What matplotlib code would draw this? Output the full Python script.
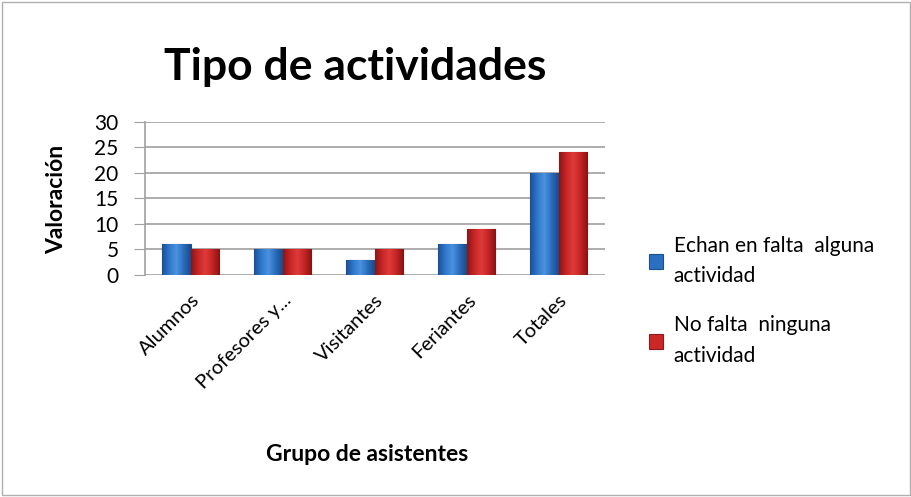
import numpy as np
import matplotlib.pyplot as plt
from matplotlib.patches import Rectangle
from matplotlib.colors import LinearSegmentedColormap

plt.rcParams['font.family'] = ['Lato', 'DejaVu Sans']

grupos = ["Alumnos", "Profesores y...", "Visitantes", "Feriantes", "Totales"]
echan_en_falta = [6, 5, 3, 6, 20]
no_falta = [5, 5, 5, 9, 24]
series_labels = ["Echan en falta  alguna\nactividad", "No falta  ninguna\nactividad"]

fig = plt.figure(figsize=(9.12, 4.97), dpi=100)
ax = fig.add_axes([0.159, 0.447, 0.504, 0.308])

x = np.arange(len(grupos))
w = 0.31
b1 = ax.bar(x - w / 2, echan_en_falta, w, color="#2a6fc0", edgecolor="#1d4f8c", linewidth=0.8,
            label=series_labels[0], zorder=3)
b2 = ax.bar(x + w / 2, no_falta, w, color="#cc2727", edgecolor="#8e1a1a", linewidth=0.8,
            label=series_labels[1], zorder=3)

# horizontal shading to mimic the bevelled Excel bars
blue_cm = LinearSegmentedColormap.from_list("b", ["#1c4f94", "#2f78cc", "#4a92e0", "#2a6cbc", "#1a4a8a"])
red_cm = LinearSegmentedColormap.from_list("r", ["#8c1616", "#c82626", "#e03a3a", "#c42424", "#861414"])
shade = np.vstack([np.linspace(0, 1, 64)] * 2)
for bars, cmap in [(b1, blue_cm), (b2, red_cm)]:
    for r in bars:
        x0, y0 = r.get_x(), r.get_y()
        im = ax.imshow(shade, extent=[x0, x0 + r.get_width(), y0, y0 + r.get_height()],
                       cmap=cmap, aspect="auto", zorder=3.5)
        im.set_clip_path(r)

ax.set_xlim(-0.5, len(grupos) - 0.5)
ax.set_ylim(0, 30)
ax.set_yticks(range(0, 31, 5))
ax.grid(axis="y", color="#a0a0a0", linewidth=1.2, zorder=0)
for s in ["top", "right", "bottom"]:
    ax.spines[s].set_visible(False)
ax.spines["left"].set_color("#a0a0a0")
ax.spines["left"].set_linewidth(1.2)
ax.tick_params(axis="y", length=8, color="#a0a0a0", labelsize=15, pad=11)
ax.tick_params(axis="x", length=0, labelsize=14.5, pad=12)
ax.set_xticks(x)
ax.set_xticklabels(grupos, rotation=45, ha="right", rotation_mode="anchor")

fig.text(0.062, 0.598, "Valoración", fontsize=16.5, fontweight="bold", rotation=90, ha="center", va="center")
fig.text(0.403, 0.085, "Grupo de asistentes", fontsize=16.5, fontweight="bold", ha="center", va="center")
fig.text(0.39, 0.865, "Tipo de actividades", fontsize=32, fontweight="bold", ha="center", va="center")

leg = ax.legend(loc="center left", bbox_to_anchor=(1.055, -0.17), frameon=False, fontsize=15,
                handlelength=0.7, handleheight=0.7, handletextpad=0.5, labelspacing=1.4)
for t in leg.get_texts():
    t.set_linespacing(1.65)

fig.add_artist(Rectangle((0.002, 0.004), 0.996, 0.992, transform=fig.transFigure,
                         fill=False, edgecolor="#b0b0b0", linewidth=1))

fig.savefig("out.png", dpi=100)
